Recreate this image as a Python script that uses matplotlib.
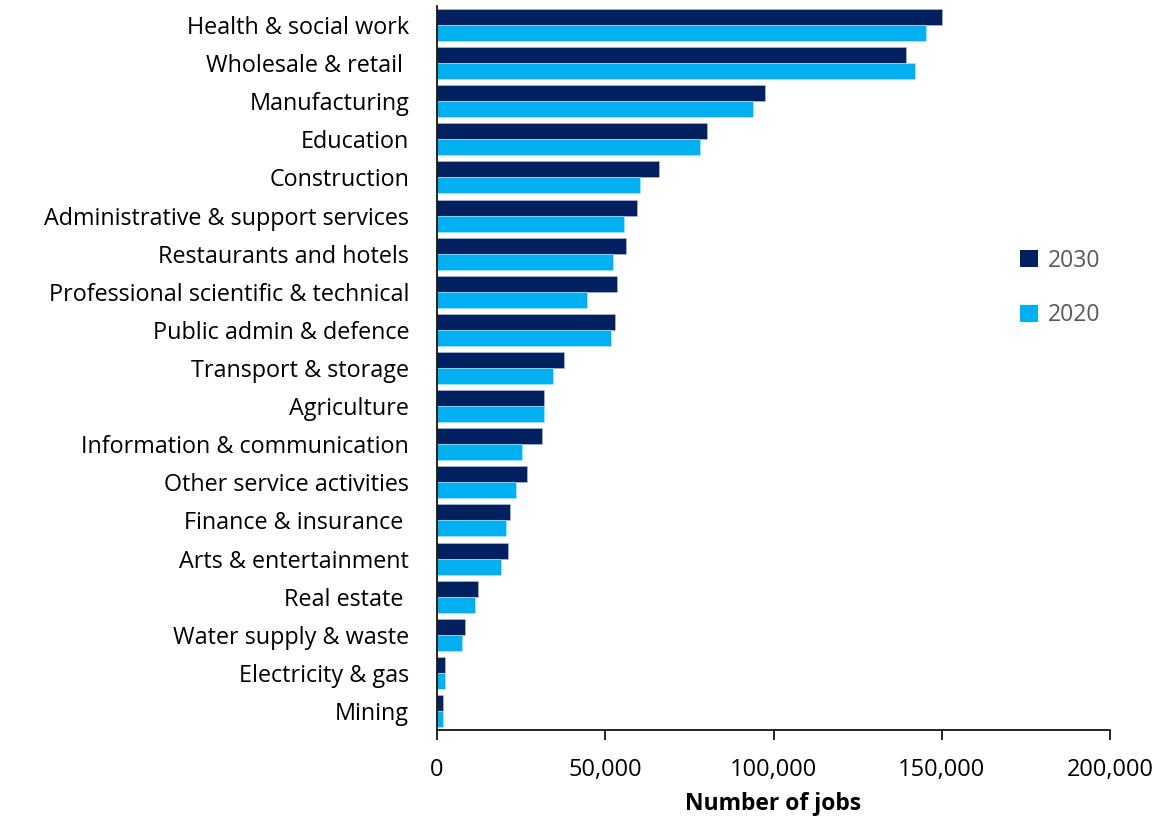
import matplotlib
matplotlib.use("Agg")
import matplotlib.pyplot as plt
import numpy as np
from matplotlib.ticker import FuncFormatter
from matplotlib.patches import Patch

categories = ["Health & social work", "Wholesale & retail ", "Manufacturing", "Education",
              "Construction", "Administrative & support services", "Restaurants and hotels",
              "Professional scientific & technical", "Public admin & defence",
              "Transport & storage", "Agriculture", "Information & communication",
              "Other service activities", "Finance & insurance ", "Arts & entertainment",
              "Real estate ", "Water supply & waste", "Electricity & gas", "Mining"]
jobs_2030 = [150000, 139400, 97600, 80200, 66100, 59400, 56200, 53600, 53000, 37600,
             31900, 31200, 26700, 21600, 21000, 12100, 8200, 2400, 1800]
jobs_2020 = [145300, 142100, 93800, 78200, 60200, 55500, 52400, 44600, 51700, 34400,
             31900, 25400, 23600, 20400, 19100, 11400, 7500, 2400, 1800]
x_ticks = [0, 50000, 100000, 150000, 200000]

c2030 = "#002060"
c2020 = "#00B0F0"

plt.rcParams['font.family'] = ['Open Sans', 'DejaVu Sans']

fig = plt.figure(figsize=(11.59, 8.18), dpi=100)
ax = fig.add_axes([437/1159, 1 - 730/818, (1110-437)/1159, (730-6)/818])

y = np.arange(len(categories))
h = 0.42
ax.barh(y - h/2, jobs_2030, height=h, color=c2030, edgecolor="#b8c4d8", linewidth=0.4, label="2030")
ax.barh(y + h/2, jobs_2020, height=h, color=c2020, edgecolor="#b8e4f8", linewidth=0.4, label="2020")

ax.set_ylim(len(categories) - 0.5, -0.5)
ax.set_xlim(0, 200000)
ax.set_yticks(y)
ax.set_yticklabels(categories, fontsize=16.8, color="#000000")
ax.tick_params(axis='y', length=0, pad=20)
ax.set_xticks(x_ticks)
ax.xaxis.set_major_formatter(FuncFormatter(lambda v, p: f"{int(v):,}"))
ax.tick_params(axis='x', length=7, width=1.2, labelsize=17, pad=13, colors="#000000", direction='out')

for s in ["top", "right"]:
    ax.spines[s].set_visible(False)
ax.spines["left"].set_color("#000000")
ax.spines["left"].set_linewidth(1.2)
ax.spines["bottom"].set_color("#000000")
ax.spines["bottom"].set_linewidth(1.2)

ax.set_xlabel("Number of jobs", fontsize=16.5, fontweight="bold", labelpad=7)

handles = [Patch(facecolor=c2030, label="2030"), Patch(facecolor=c2020, label="2020")]
fig.legend(handles=handles, loc="center", bbox_to_anchor=(1060/1159, 1 - 288/818),
           frameon=False, fontsize=16.5, labelcolor="#595959", handlelength=0.8,
           handleheight=0.8, handletextpad=0.4, labelspacing=1.35)

fig.savefig("out.png", dpi=100)
